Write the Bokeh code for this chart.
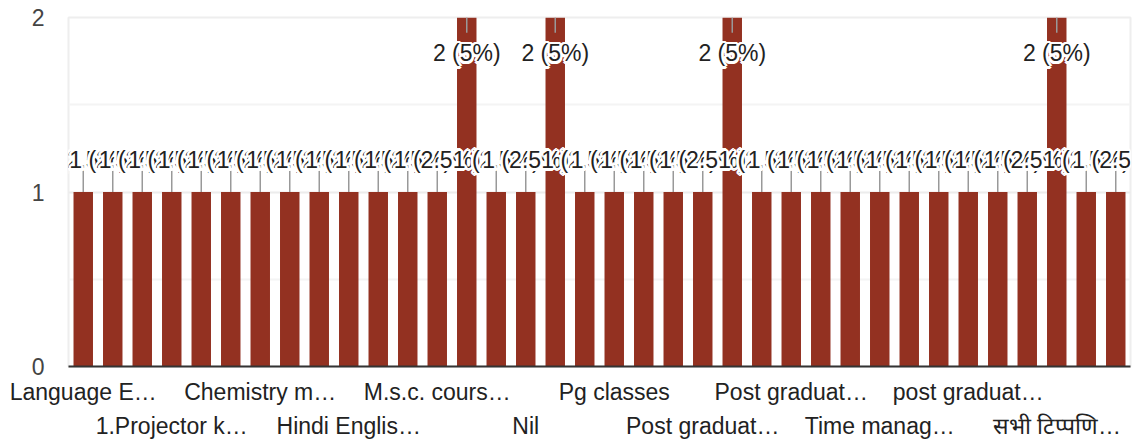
import numpy as np
from bokeh.plotting import figure
from bokeh.models import Range1d, LinearAxis, FixedTicker, ColumnDataSource, LabelSet, Label
from bokeh.core.properties import value
from bokeh.embed import file_html
from bokeh.resources import INLINE

# ---------------- data ----------------
counts = [1, 1, 1, 1, 1, 1, 1, 1, 1, 1, 1, 1, 1, 2, 1, 1, 2, 1,
          1, 1, 1, 1, 2, 1, 1, 1, 1, 1, 1, 1, 1, 1, 1, 2, 1, 1]
tick_bar_index = [0, 3, 6, 9, 12, 15, 18, 21, 24, 27, 30, 33]
tick_labels = ["Language E…", "1.Projector k…", "Chemistry m…", "Hindi Englis…",
               "M.s.c. cours…", "Nil", "Pg classes", "Post graduat…",
               "Post graduat…", "Time manag…", "post graduat…", "सभी टिप्पणि…"]
y_ticks = [0, 1, 2]
y_minor = [0.5, 1.5]

# ---------------- style ----------------
FONT = "Liberation Sans"
FS = "23px"
BAR = "#933121"
TXT = "#222222"
n = len(counts)
total = sum(counts)
ymax = 2

x = np.arange(n) + 0.5
c = np.array(counts, dtype=float)
at_top = c >= ymax
label_y = np.where(at_top, c - 0.206, c + 0.183)
stem_end = np.where(at_top, c - 0.088, c + 0.16)
label_txt = [f"{v} ({v / total * 100:g}%)" for v in counts]

p = figure(width=1136, height=441, x_range=Range1d(0, n), y_range=Range1d(0, ymax),
           output_backend="svg", toolbar_location=None,
           min_border_left=68, min_border_top=17, min_border_right=6, min_border_bottom=0)
p.background_fill_color = "white"
p.border_fill_color = "white"
p.outline_line_color = "#eeeeee"
p.outline_line_width = 2

# grid
p.xgrid.visible = False
p.ygrid.ticker = FixedTicker(ticks=y_ticks, minor_ticks=y_minor)
p.ygrid.grid_line_color = "#ececec"
p.ygrid.grid_line_width = 2
p.ygrid.minor_grid_line_color = "#f4f4f4"
p.ygrid.minor_grid_line_width = 2

# y axis
ya = p.yaxis[0]
ya.ticker = FixedTicker(ticks=y_ticks, minor_ticks=y_minor)
ya.axis_line_color = None
ya.major_tick_line_color = None
ya.minor_tick_line_color = None
ya.major_tick_out = 0
ya.major_label_standoff = 20
ya.major_label_text_font = FONT
ya.major_label_text_font_size = FS
ya.major_label_text_color = "#444444"

# x axes (two rows of labels)
row1 = [(x[i], lab) for k, (i, lab) in enumerate(zip(tick_bar_index, tick_labels)) if k % 2 == 0]
row2 = [(x[i], lab) for k, (i, lab) in enumerate(zip(tick_bar_index, tick_labels)) if k % 2 == 1]

xa = p.xaxis[0]
xa.ticker = FixedTicker(ticks=[float(t) for t, _ in row1])
xa.major_label_overrides = {float(t): lab for t, lab in row1}
xa.axis_line_color = "#333333"
xa.axis_line_width = 2
xa.major_tick_line_color = None
xa.minor_tick_line_color = None
xa.major_tick_out = 0
xa.major_label_standoff = 12
xa.major_label_text_font = FONT
xa.major_label_text_font_size = FS
xa.major_label_text_color = TXT

xb = LinearAxis(ticker=FixedTicker(ticks=[float(t) for t, _ in row2]),
                major_label_overrides={float(t): lab for t, lab in row2})
xb.axis_line_color = None
xb.major_tick_line_color = None
xb.minor_tick_line_color = None
xb.major_tick_out = 0
xb.major_label_standoff = 5
xb.major_label_text_font = FONT
xb.major_label_text_font_size = FS
xb.major_label_text_color = TXT
p.add_layout(xb, "below")

# bars
p.vbar(x=x, top=c, width=0.66, bottom=0, fill_color=BAR, line_color=None)

# stems
p.segment(x0=x, y0=c, x1=x, y1=stem_end, line_color="#999999", line_width=1.5)

# annotation labels with white halo, drawn one after another
ang = np.linspace(0, 2 * np.pi, 12, endpoint=False)
ang2 = np.linspace(0, 2 * np.pi, 6, endpoint=False)
dx = np.concatenate([2.6 * np.cos(ang), 1.3 * np.cos(ang2)])
dy = np.concatenate([2.6 * np.sin(ang), 1.3 * np.sin(ang2)])
m = len(dx)
edge = {0, n - 1}
for i in range(n):
    if i in edge:
        # single Label annotations so the text may run past the frame edge
        for ox, oy in zip(dx, dy):
            p.add_layout(Label(x=x[i], y=label_y[i], text=label_txt[i], x_offset=ox, y_offset=oy,
                               text_font=FONT, text_font_size=FS, text_color="white",
                               text_align="center", text_baseline="middle"))
        p.add_layout(Label(x=x[i], y=label_y[i], text=label_txt[i],
                           text_font=FONT, text_font_size=FS, text_color=TXT,
                           text_align="center", text_baseline="middle"))
        continue
    halo = ColumnDataSource(dict(x=[x[i]] * m, y=[label_y[i]] * m, t=[label_txt[i]] * m,
                                 dx=dx, dy=dy))
    p.add_layout(LabelSet(x="x", y="y", text="t", x_offset="dx", y_offset="dy", source=halo,
                          text_font=value(FONT), text_font_size=value(FS), text_color="white",
                          text_align="center", text_baseline="middle"))
    src = ColumnDataSource(dict(x=[x[i]], y=[label_y[i]], t=[label_txt[i]]))
    p.add_layout(LabelSet(x="x", y="y", text="t", source=src,
                          text_font=value(FONT), text_font_size=value(FS), text_color=TXT,
                          text_align="center", text_baseline="middle"))

open("out.html", "w").write(file_html(p, INLINE))
